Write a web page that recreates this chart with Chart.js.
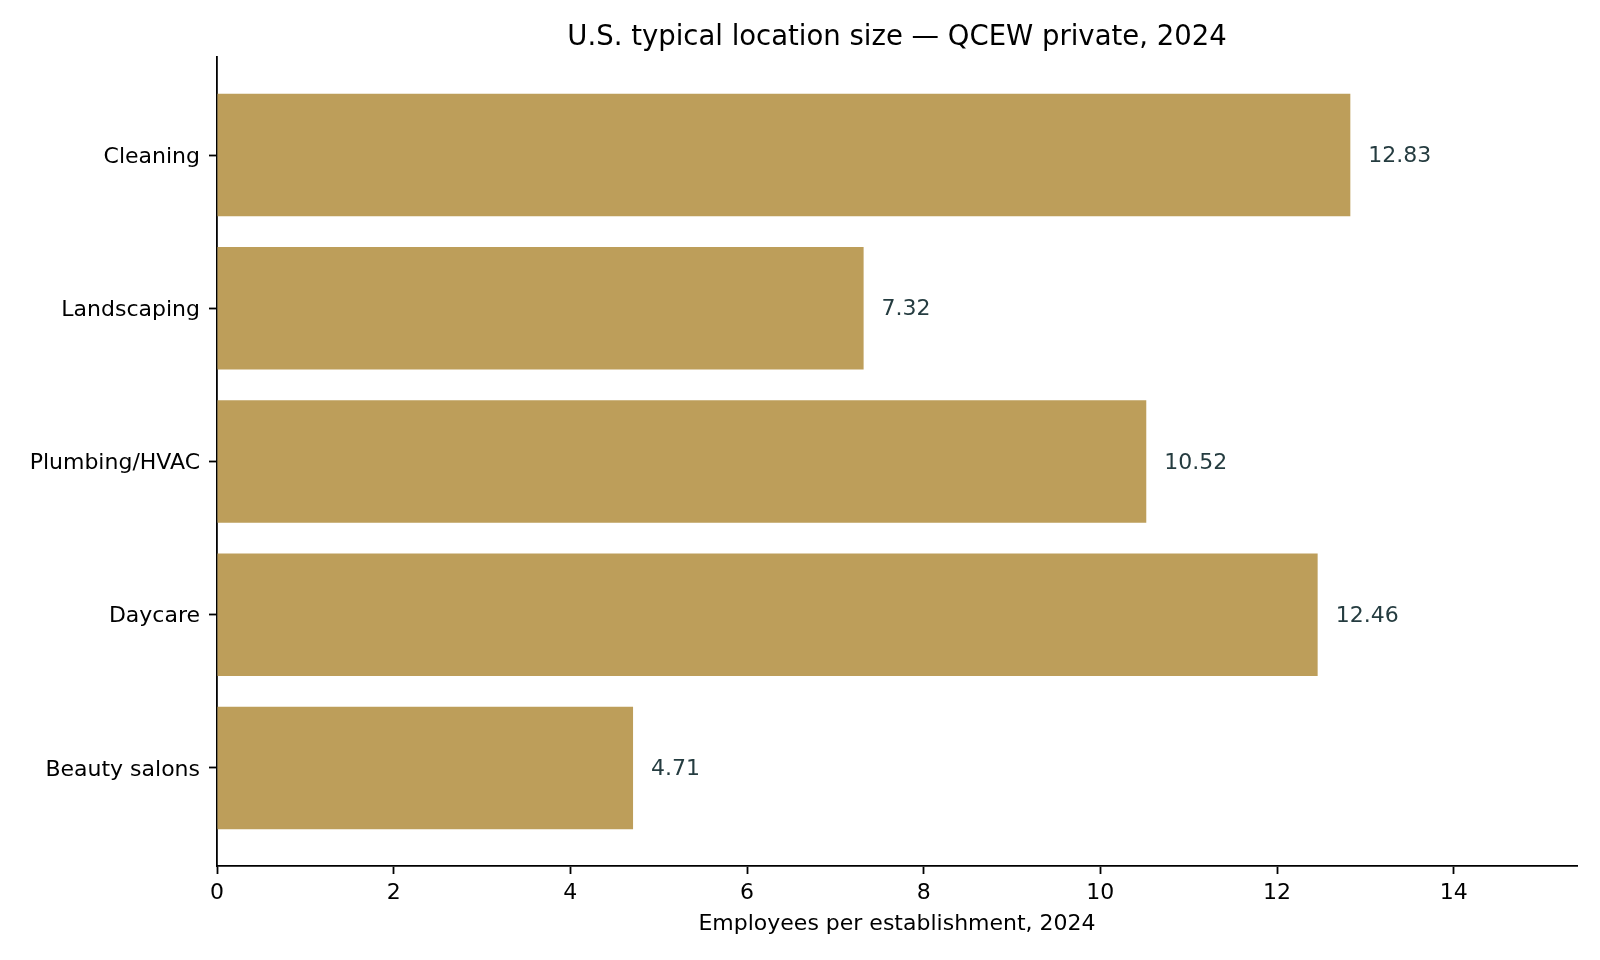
<!DOCTYPE html>
<html>
<head>
<meta charset="utf-8">
<script src="https://cdn.jsdelivr.net/npm/chart.js@4"></script>
<style>
  html, body { margin: 0; padding: 0; background: #ffffff; }
  #wrap { width: 1600px; height: 960px; }
</style>
</head>
<body>
<div id="wrap"><canvas id="sizeChart" width="1600" height="960"></canvas></div>
<script>
var industries = ["Cleaning", "Landscaping", "Plumbing/HVAC", "Daycare", "Beauty salons"];
var employeesPerEstablishment = [12.83, 7.32, 10.52, 12.46, 4.71];
var xTickValues = [0, 2, 4, 6, 8, 10, 12, 14];
var chartTitle = "U.S. typical location size \u2014 QCEW private, 2024";

var barColor = "#bd9e5a";
var labelColor = "#253c40";
var fontFamily = "'DejaVu Sans', sans-serif";

var barPoints = industries.map(function (name, i) {
  return { x: employeesPerEstablishment[i], y: i };
});

// value text at the end of each bar, title centred over the plot area
var valueLabels = {
  id: "valueLabels",
  afterDatasetsDraw: function (chart) {
    var ctx = chart.ctx;
    var meta = chart.getDatasetMeta(0);
    ctx.save();
    ctx.font = "22px " + fontFamily;
    ctx.fillStyle = labelColor;
    ctx.textAlign = "left";
    ctx.textBaseline = "middle";
    meta.data.forEach(function (bar, i) {
      ctx.fillText(employeesPerEstablishment[i].toFixed(2), bar.x + 18, bar.y + 1.5);
    });
    ctx.restore();
  },
  afterDraw: function (chart) {
    var ctx = chart.ctx;
    var area = chart.chartArea;
    ctx.save();
    ctx.font = "27.5px " + fontFamily;
    ctx.fillStyle = "#000000";
    ctx.textAlign = "center";
    ctx.textBaseline = "middle";
    ctx.fillText(chartTitle, (area.left + area.right) / 2, 37.5);
    ctx.restore();
  }
};

new Chart("sizeChart", {
  type: "bar",
  data: {
    datasets: [{
      data: barPoints,
      backgroundColor: barColor,
      borderWidth: 0,
      barPercentage: 0.8,
      categoryPercentage: 1
    }]
  },
  options: {
    indexAxis: "y",
    responsive: false,
    devicePixelRatio: 1,
    animation: false,
    layout: { padding: { left: 0, right: 23, top: 57, bottom: 0 } },
    plugins: {
      legend: { display: false },
      tooltip: { enabled: false },
      title: { display: false }
    },
    scales: {
      x: {
        type: "linear",
        min: 0,
        max: 15.396,
        afterBuildTicks: function (scale) {
          scale.ticks = xTickValues.map(function (v) { return { value: v }; });
        },
        afterFit: function (scale) { scale.height = 94; },
        grid: { drawOnChartArea: false, drawTicks: true, tickLength: 8, tickColor: "#000000", tickWidth: 1.8 },
        border: { display: true, color: "#000000", width: 1.8 },
        ticks: {
          color: "#000000",
          padding: 6,
          maxRotation: 0,
          font: { family: fontFamily, size: 22 }
        },
        title: {
          display: true,
          text: "Employees per establishment, 2024",
          color: "#000000",
          font: { family: fontFamily, size: 22 },
          padding: { top: 0, bottom: 23 }
        }
      },
      y: {
        type: "linear",
        reverse: true,
        offset: false,
        min: -0.64,
        max: 4.64,
        afterBuildTicks: function (scale) {
          scale.ticks = industries.map(function (n, i) { return { value: i }; });
        },
        afterFit: function (scale) { scale.width = 217; },
        grid: { offset: false, drawOnChartArea: false, drawTicks: true, tickLength: 8, tickColor: "#000000", tickWidth: 1.8 },
        border: { display: true, color: "#000000", width: 1.8 },
        ticks: {
          color: "#000000",
          padding: 9,
          labelOffset: 2,
          font: { family: fontFamily, size: 22 },
          callback: function (value) { return industries[value]; }
        }
      }
    }
  },
  plugins: [valueLabels]
});
</script>
</body>
</html>
